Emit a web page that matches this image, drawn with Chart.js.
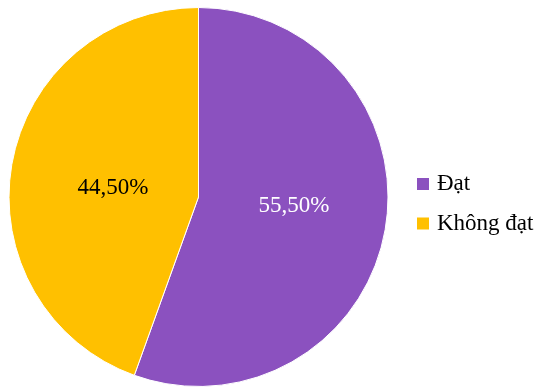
<!DOCTYPE html>
<html lang="vi">
<head>
<meta charset="utf-8">
<title>Tỉ lệ đạt</title>
<script src="https://cdn.jsdelivr.net/npm/chart.js@4.4.1/dist/chart.umd.min.js"></script>
<style>
    html, body { margin: 0; padding: 0; background: #ffffff; }
    #wrap { width: 543px; height: 387px; position: relative; }
</style>
</head>
<body>
<div id="wrap"><canvas id="pieChart"></canvas></div>
<script>
// Dữ liệu biểu đồ
const categories = ['Đạt', 'Không đạt'];
const percentValues = [55.5, 44.5];
const sliceColors = ['#8B51BF', '#FFC000'];
const labelColors = ['#ffffff', '#000000'];

const FONT_FAMILY = "'Liberation Serif', 'Times New Roman', serif";

// Ghi phần trăm lên từng lát bánh, dùng hình học cung của Chart.js
const sliceLabels = {
    id: 'sliceLabels',
    afterDatasetsDraw(chart) {
        const ctx = chart.ctx;
        const meta = chart.getDatasetMeta(0);
        const values = chart.data.datasets[0].data;
        ctx.save();
        ctx.font = '23px ' + FONT_FAMILY;
        ctx.textAlign = 'center';
        ctx.textBaseline = 'middle';
        meta.data.forEach((arc, i) => {
            const p = arc.getProps(['x', 'y', 'startAngle', 'endAngle', 'outerRadius'], true);
            const mid = (p.startAngle + p.endAngle) / 2 - 0.07;
            const r = p.outerRadius * 0.48;
            const text = values[i].toFixed(2).replace('.', ',') + '%';
            ctx.fillStyle = labelColors[i];
            ctx.fillText(text, p.x + 5 + Math.cos(mid) * r, p.y + Math.sin(mid) * r);
        });
        ctx.restore();
    }
};

// Chú giải bên phải: ô màu vuông + tên nhóm, lấy từ dữ liệu của biểu đồ
const sideLegend = {
    id: 'sideLegend',
    afterDraw(chart) {
        const ctx = chart.ctx;
        const ds = chart.data.datasets[0];
        const x = chart.chartArea.right + 28;
        const box = 12;
        const rowGap = 39.5;
        const firstBase = chart.chartArea.top + (chart.chartArea.bottom - chart.chartArea.top) / 2 - 7;
        ctx.save();
        ctx.font = '23px ' + FONT_FAMILY;
        ctx.textAlign = 'left';
        ctx.textBaseline = 'alphabetic';
        chart.data.labels.forEach((label, i) => {
            const base = firstBase + i * rowGap;
            ctx.fillStyle = ds.backgroundColor[i];
            ctx.fillRect(x, base - box, box, box);
            ctx.fillStyle = '#000000';
            ctx.fillText(label, x + box + 8, base);
        });
        ctx.restore();
    }
};

new Chart(document.getElementById('pieChart'), {
    type: 'pie',
    data: {
        labels: categories,
        datasets: [{
            data: percentValues,
            backgroundColor: sliceColors,
            borderColor: '#ffffff',
            borderWidth: 1
        }]
    },
    options: {
        responsive: true,
        maintainAspectRatio: false,
        animation: false,
        events: [],
        layout: { padding: { top: 7, bottom: 0, left: 8, right: 154 } },
        plugins: {
            tooltip: { enabled: false },
            legend: { display: false }
        }
    },
    plugins: [sliceLabels, sideLegend]
});
</script>
</body>
</html>
